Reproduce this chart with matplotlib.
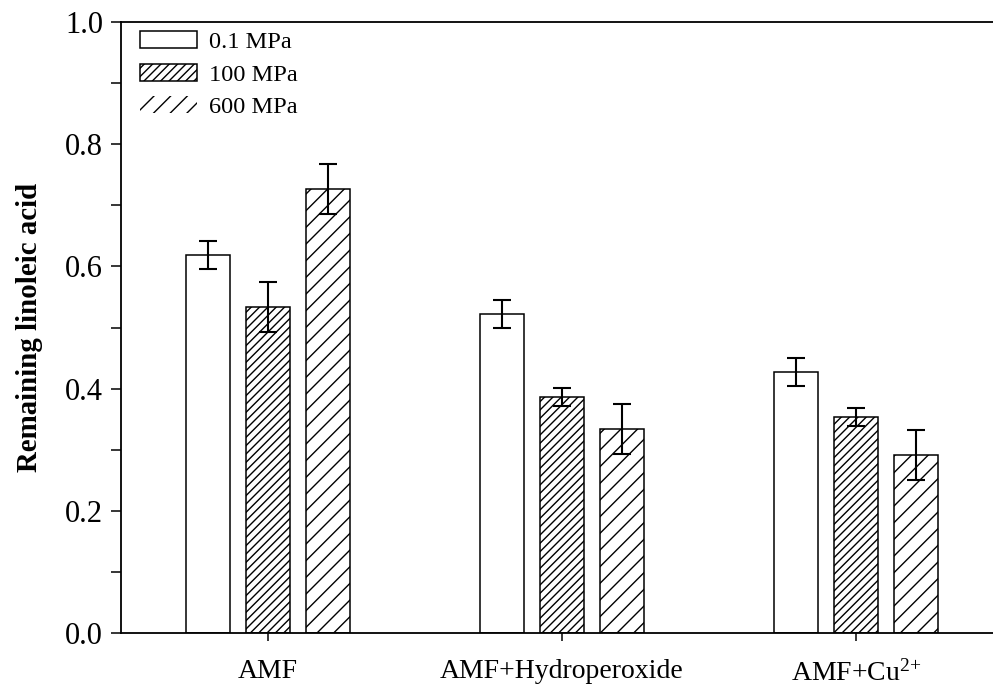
import numpy as np
import matplotlib.pyplot as plt
from matplotlib.patches import Patch
from matplotlib.ticker import MultipleLocator

groups = ['AMF', 'AMF+Hydroperoxide', 'AMF+Cu$^{\\mathregular{2{+}}}$']
pressures = ['0.1 MPa', '100 MPa', '600 MPa']
values = [[0.618, 0.522, 0.427],   # 0.1 MPa
          [0.533, 0.386, 0.354],   # 100 MPa
          [0.726, 0.334, 0.292]]   # 600 MPa
errors = [[0.023, 0.023, 0.023],
          [0.041, 0.015, 0.015],
          [0.041, 0.041, 0.041]]
hatches = ['', '////', '//']

plt.rcParams['font.family'] = ['Liberation Serif', 'DejaVu Serif']
plt.rcParams['mathtext.fontset'] = 'stix'
plt.rcParams['hatch.linewidth'] = 1.0

fig = plt.figure(figsize=(9.93, 6.9), dpi=100)
ax = fig.add_axes([0.1219, 0.0826, 0.888, 0.8855])

x = np.arange(len(groups))
width = 0.15
offset = 0.204
for i in range(3):
    ax.bar(x + (i - 1) * offset, values[i], width, yerr=errors[i],
           color='white', edgecolor='black', linewidth=1.1, hatch=hatches[i],
           error_kw=dict(ecolor='black', elinewidth=1.5, capsize=6.5, capthick=1.5))

ax.set_xlim(-0.5, 2.5)
ax.set_ylim(0, 1.0)
ax.set_xticks(x)
ax.set_xticklabels(groups, fontsize=20)
ax.yaxis.set_minor_locator(MultipleLocator(0.1))
ax.set_yticks(np.arange(0, 1.01, 0.2))
ax.set_yticklabels(['%.1f' % v for v in np.arange(0, 1.01, 0.2)], fontsize=22)
ax.tick_params(axis='y', which='both', direction='out', length=7, width=1.1, pad=6)
ax.tick_params(axis='x', direction='out', length=6, width=1.1, pad=13)
for s in ax.spines.values():
    s.set_linewidth(1.3)
ax.set_ylabel('Remaining linoleic acid', fontsize=20.8, fontweight='bold', labelpad=16)

handles = [Patch(facecolor='white', edgecolor='black', linewidth=1.1),
           Patch(facecolor='white', edgecolor='black', linewidth=1.1, hatch='////'),
           Patch(facecolor='white', edgecolor='black', linewidth=0, hatch='//')]
ax.legend(handles, pressures, loc='upper left', frameon=False, fontsize=17.6,
          handlelength=2.3, handleheight=0.7, labelspacing=0.42,
          handletextpad=0.5, borderpad=0, borderaxespad=0,
          bbox_to_anchor=(0.022, 0.985))

fig.savefig('out.png', dpi=100)
